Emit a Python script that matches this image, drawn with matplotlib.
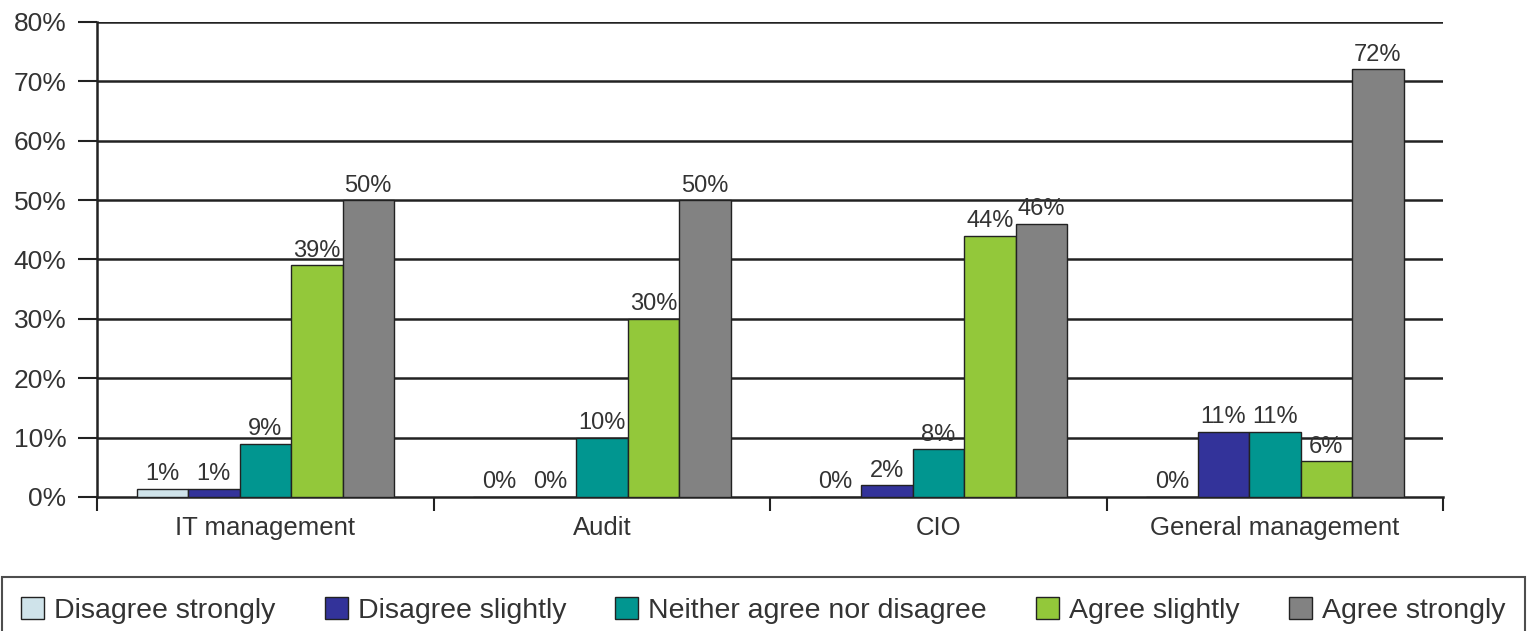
import matplotlib
matplotlib.use("Agg")
import matplotlib.pyplot as plt
import numpy as np

categories = ["IT management", "Audit", "CIO", "General management"]
series_names = ["Disagree strongly", "Disagree slightly", "Neither agree nor disagree",
                "Agree slightly", "Agree strongly"]
disagree_strongly = [1.4, 0, 0, 0]
disagree_slightly = [1.4, 0, 2, 11]
neither = [9, 10, 8, 11]
agree_slightly = [39, 30, 44, 6]
agree_strongly = [50, 50, 46, 72]
series_values = [disagree_strongly, disagree_slightly, neither, agree_slightly, agree_strongly]
colors = ["#cfe3ea", "#33339a", "#019690", "#93c83a", "#828282"]
y_ticks = [0, 10, 20, 30, 40, 50, 60, 70, 80]

plt.rcParams['font.family'] = ['Liberation Sans', 'DejaVu Sans']
txt = "#333333"

fig = plt.figure(figsize=(15.28, 6.31), dpi=100)
ax = fig.add_axes([0.0635, 0.2124, 0.881, 0.7528])

n = len(series_values)
w = 0.153
x = np.arange(len(categories))
for i, (vals, c, name) in enumerate(zip(series_values, colors, series_names)):
    pos = x + (i - (n - 1) / 2) * w
    ax.bar(pos, vals, width=w, color=c, edgecolor="#222222", linewidth=1.0, label=name, zorder=3)
    for px, v in zip(pos, vals):
        ax.text(px, v + 0.6, f"{v:.0f}%", ha="center", va="bottom", fontsize=17, color=txt, zorder=4)

ax.set_xlim(-0.5, len(categories) - 0.5)
ax.set_ylim(0, 80)
ax.set_yticks(y_ticks)
ax.set_yticklabels([f"{t}%" for t in y_ticks], fontsize=19, color=txt)
ax.set_xticks(x)
ax.set_xticklabels(categories, fontsize=18.5, color=txt)
ax.set_xticks(np.arange(len(categories) + 1) - 0.5, minor=True)
ax.tick_params(axis="x", which="major", length=0, pad=14)
ax.tick_params(axis="x", which="minor", length=10, width=1.5, direction="out", color="#222222")
ax.tick_params(axis="y", length=14, width=1.5, color="#222222", pad=8)
for t in y_ticks[1:]:
    ax.axhline(t, color="#222222", linewidth=1.8, zorder=1)
for s in ["top", "right"]:
    ax.spines[s].set_visible(False)
ax.spines["left"].set_linewidth(1.8)
ax.spines["bottom"].set_linewidth(1.8)
ax.spines["left"].set_color("#222222")
ax.spines["bottom"].set_color("#222222")

leg = fig.legend(loc="upper left", bbox_to_anchor=(0.001, -0.05, 0.997, 0.135), mode="expand",
                 ncol=5, fontsize=20.5, frameon=True, fancybox=False, edgecolor="#222222",
                 handlelength=0.8, handleheight=0.8, handletextpad=0.35, borderaxespad=0,
                 borderpad=0.7, labelcolor=txt)
leg.get_frame().set_linewidth(1.5)

fig.savefig("out.png", dpi=100)
